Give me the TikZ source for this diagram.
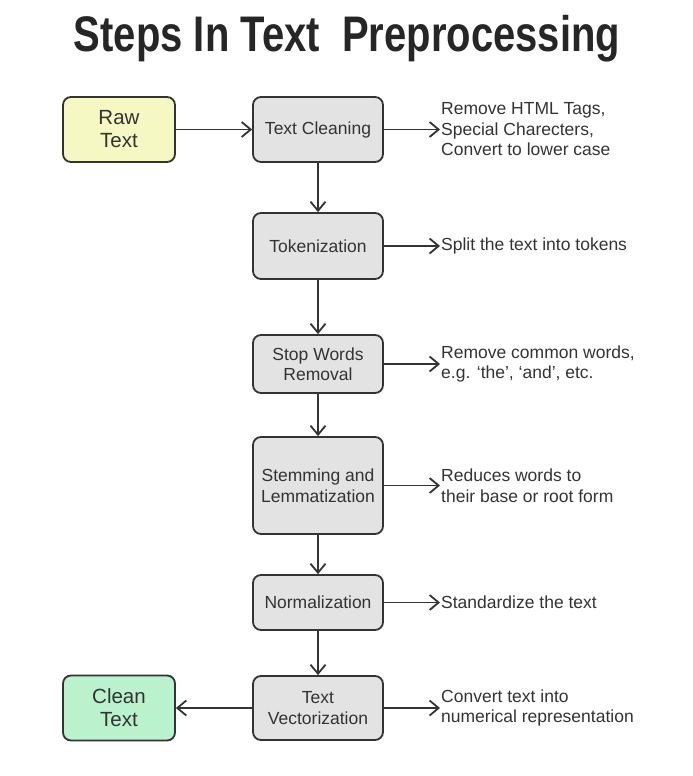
\documentclass[tikz,border=0pt]{standalone}
\usepackage{fontspec}
\setmainfont{Liberation Sans}
\usetikzlibrary{arrows.meta}

\definecolor{inkgray}{HTML}{333333}
\definecolor{boxgray}{HTML}{E3E3E3}
\definecolor{rawyellow}{HTML}{F5F8C3}
\definecolor{cleangreen}{HTML}{BAF2CD}

\tikzset{
  stepbox/.style={draw=inkgray, fill=boxgray, line width=1.8pt, rounded corners=8pt,
    minimum width=130pt, align=center, text=inkgray,
    font=\fontsize{17.5}{20.5}\selectfont},
  endbox/.style={stepbox, minimum width=112pt, minimum height=65pt,
    font=\fontsize{20.5}{23}\selectfont},
  desc/.style={anchor=west, align=left, inner sep=1pt, text=inkgray,
    font=\fontsize{17.5}{20.5}\selectfont},
  arr/.style={draw=inkgray, line width=1.8pt, -{Straight Barb[length=9pt,width=15pt]}}
}

\begin{document}
\begin{tikzpicture}[x=1pt,y=-1pt]
  \useasboundingbox (0,0) rectangle (693,776);

  \node[anchor=base, text=black!85, font=\fontsize{40}{48}\selectfont\bfseries] (title) at (347,52)
    {\scalebox{1}[1.25]{Steps In Text\ \ Preprocessing}};

  \node[endbox, fill=rawyellow] (raw) at (119,129.5) {Raw\\Text};
  \node[stepbox, minimum height=65pt] (cleaning) at (318,129.5) {Text Cleaning};
  \node[stepbox, minimum height=66pt] (token) at (318,246) {Tokenization};
  \node[stepbox, minimum height=58pt] (stop) at (318,364) {Stop Words\\Removal};
  \node[stepbox, minimum height=97pt] (stem) at (318,485.5) {Stemming and\\Lemmatization};
  \node[stepbox, minimum height=55pt] (norm) at (318,602.5) {Normalization};
  \node[stepbox, minimum height=64pt] (vector) at (318,708) {Text\\Vectorization};
  \node[endbox, fill=cleangreen] (clean) at (119,708) {Clean\\Text};

  \node[desc] (dcleaning) at (440,129.5) {Remove HTML Tags,\\Special Charecters,\\Convert to lower case};
  \node[desc] (dtoken) at (440,246) {Split the text into tokens};
  \node[desc] (dstop) at (440,364) {Remove common words,\\e.g. ‘the’, ‘and’, etc.};
  \node[desc] (dstem) at (440,485.5) {Reduces words to\\their base or root form};
  \node[desc] (dnorm) at (440,602.5) {Standardize the text};
  \node[desc] (dvector) at (440,708) {Convert text into\\numerical representation};

  % main chain
  \draw[arr] (raw.east) -- (cleaning.west);
  \draw[arr] (cleaning.south) -- (token.north);
  \draw[arr] (token.south) -- (stop.north);
  \draw[arr] (stop.south) -- (stem.north);
  \draw[arr] (stem.south) -- (norm.north);
  \draw[arr] (norm.south) -- (vector.north);
  \draw[arr] (vector.west) -- (clean.east);

  % side notes
  \draw[arr] (cleaning.east) -- (dcleaning.west);
  \draw[arr] (token.east) -- (dtoken.west);
  \draw[arr] (stop.east) -- (dstop.west);
  \draw[arr] (stem.east) -- (dstem.west);
  \draw[arr] (norm.east) -- (dnorm.west);
  \draw[arr] (vector.east) -- (dvector.west);
\end{tikzpicture}
\end{document}
